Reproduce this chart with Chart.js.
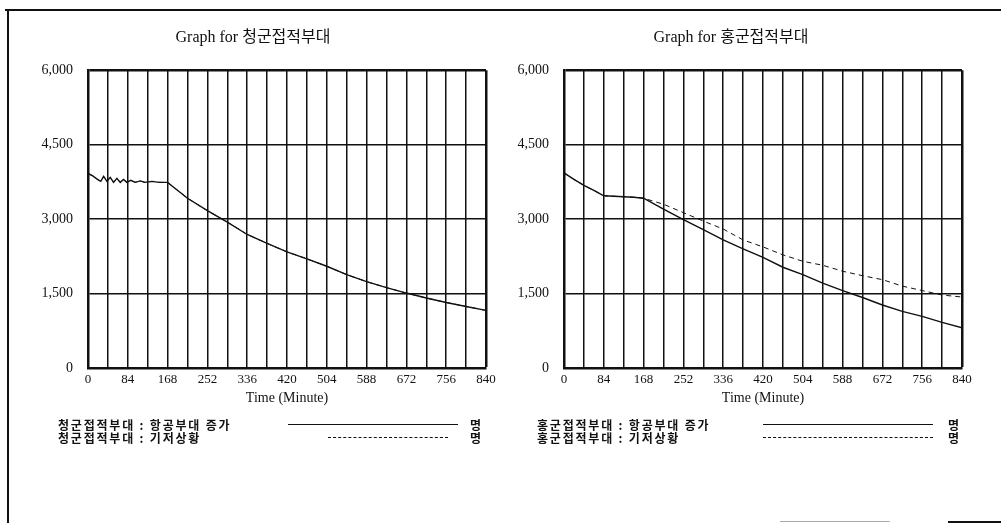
<!DOCTYPE html>
<html>
<head>
<meta charset="utf-8">
<script src="https://cdn.jsdelivr.net/npm/chart.js@4.4.0/dist/chart.umd.min.js"></script>
<style>
  body { margin: 0; background: #fff; }
  #page { position: relative; width: 1001px; height: 523px; overflow: hidden; background: #fff; }
  canvas { position: absolute; top: 0; }
  .frame { position: absolute; background: #111; }
  .legend { position: absolute; font-family: "Noto Sans CJK KR", sans-serif; font-size: 12px; font-weight: bold; color: #111; }
  .row { position: absolute; left: 0; height: 13px; line-height: 13px; white-space: nowrap; letter-spacing: 1.8px; }
  .sample { position: absolute; height: 0; border-top: 1.5px solid #111; }
  .sample.dash { border-top: 1.5px dashed #111; }
</style>
</head>
<body>
<div id="page">
  <div class="frame" style="left:5px; top:9px; width:996px; height:2px;"></div>
  <div class="frame" style="left:7px; top:9px; width:2px; height:514px;"></div>
  <div class="frame" style="left:780px; top:521px; width:110px; height:1px; background:#aaa;"></div>
  <div class="frame" style="left:948px; top:521px; width:53px; height:2px;"></div>
  <canvas id="left" width="500" height="420" style="left:20px;"></canvas>
  <canvas id="right" width="501" height="420" style="left:500px;"></canvas>
  <div id="legendLeft" class="legend" style="left:58px; top:418px;"></div>
  <div id="legendRight" class="legend" style="left:537px; top:418px;"></div>
</div>
<script>
// time in minutes, values in 명 (persons)
const leftTime = [0, 10, 20, 27, 33, 40, 47, 54, 61, 68, 75, 82, 90, 100, 110, 120, 135, 150, 168,
  210, 252, 294, 336, 378, 420, 462, 504, 546, 588, 630, 672, 714, 756, 798, 840];
//청군: 항공부대 증가
const leftAir = [3920, 3870, 3800, 3760, 3860, 3760, 3840, 3740, 3820, 3740, 3800, 3740, 3780, 3740, 3770, 3740, 3760, 3740, 3740,
  3420, 3170, 2940, 2690, 2510, 2340, 2200, 2050, 1880, 1740, 1620, 1510, 1410, 1320, 1240, 1160];
//청군: 기저상황 (same run as above on this graph)
const leftBase = [3920, 3870, 3800, 3760, 3860, 3760, 3840, 3740, 3820, 3740, 3800, 3740, 3780, 3740, 3770, 3740, 3760, 3740, 3740,
  3420, 3170, 2940, 2690, 2510, 2340, 2200, 2050, 1880, 1740, 1620, 1510, 1410, 1320, 1240, 1160];

const rightTime = [0, 21, 42, 63, 84, 105, 126, 147, 168, 210, 252, 294, 336, 378, 420, 462, 504,
  546, 588, 630, 672, 714, 756, 798, 840];
//홍군: 항공부대 증가
const rightAir = [3930, 3800, 3680, 3580, 3470, 3460, 3450, 3440, 3420, 3200, 2990, 2790, 2580, 2400, 2230, 2030, 1880,
  1710, 1560, 1420, 1270, 1140, 1040, 920, 810];
//홍군: 기저상황
const rightBase = [3930, 3800, 3680, 3580, 3470, 3460, 3450, 3440, 3420, 3300, 3130, 2960, 2800, 2580, 2440, 2280, 2150,
  2070, 1950, 1860, 1780, 1650, 1560, 1470, 1430];

const titles = ["Graph for 청군접적부대", "Graph for 홍군접적부대"];
const leftLabels = ["청군접적부대 : 항공부대 증가", "청군접적부대 : 기저상황"];
const rightLabels = ["홍군접적부대 : 항공부대 증가", "홍군접적부대 : 기저상황"];
const unit = "명";
const xTitle = "Time (Minute)";

const serif = "'Liberation Serif', 'Noto Sans CJK KR', serif";
const ink = "#111";

const toPoints = (t, v) => t.map((x, i) => ({ x: x, y: v[i] }));

function makeChart(id, title, time, air, base, labels, yWidth, padRight) {
  return new Chart(document.getElementById(id), {
    type: "line",
    data: {
      datasets: [
        { label: labels[0], data: toPoints(time, air), borderColor: ink, borderWidth: 1.4, pointRadius: 0, tension: 0 },
        { label: labels[1], data: toPoints(time, base), borderColor: ink, borderWidth: 1, borderDash: [5, 4], pointRadius: 0, tension: 0 },
      ],
    },
    options: {
      responsive: false,
      animation: false,
      layout: { padding: { left: 0, right: padRight, top: 0, bottom: 7 } },
      plugins: {
        legend: { display: false },
        tooltip: { enabled: false },
        title: {
          display: true,
          text: title,
          color: ink,
          font: { family: serif, size: 16, weight: "normal" },
          padding: { top: 28, bottom: 23 },
        },
      },
      scales: {
        x: {
          type: "linear",
          min: 0,
          max: 840,
          afterFit: (s) => { s.height = 45; },
          ticks: {
            stepSize: 42,
            autoSkip: false,
            maxRotation: 0,
            color: ink,
            padding: 4,
            font: { family: serif, size: 13 },
            callback: (v) => (v % 84 === 0 ? v : ""),
          },
          grid: {
            color: ink,
            drawTicks: false,
            lineWidth: (c) => (c.tick && c.tick.value === 840 ? 2.5 : 1.5),
          },
          border: { color: ink, width: 2.5 },
          title: {
            display: true,
            text: xTitle,
            color: ink,
            font: { family: serif, size: 14 },
            padding: { top: 0, bottom: 6 },
          },
        },
        y: {
          min: 0,
          max: 6000,
          afterFit: (s) => { s.width = yWidth; },
          ticks: {
            stepSize: 1500,
            color: ink,
            padding: 15,
            font: { family: serif, size: 14 },
            callback: (v) => v.toLocaleString("en-US"),
          },
          grid: {
            color: ink,
            drawTicks: false,
            lineWidth: (c) => (c.tick && c.tick.value === 6000 ? 2.5 : 1.5),
          },
          border: { color: ink, width: 2.5 },
        },
      },
    },
  });
}

const leftChart = makeChart("left", titles[0], leftTime, leftAir, leftBase, leftLabels, 68, 34);
const rightChart = makeChart("right", titles[1], rightTime, rightAir, rightBase, rightLabels, 64, 39);

//legend rows under each graph, taken from the dataset labels
function buildLegend(el, chart, lines) {
  chart.data.datasets.forEach((ds, i) => {
    const top = i * 13;
    const row = document.createElement("div");
    row.className = "row";
    row.style.top = top + "px";
    row.textContent = ds.label;
    el.appendChild(row);
    const s = document.createElement("div");
    s.className = "sample" + (ds.borderDash ? " dash" : "");
    s.style.top = top + 6 + "px";
    s.style.left = lines[i][0] + "px";
    s.style.width = lines[i][1] + "px";
    el.appendChild(s);
    const u = document.createElement("div");
    u.className = "row";
    u.style.top = top + "px";
    u.style.left = lines[2] + "px";
    u.textContent = unit;
    el.appendChild(u);
  });
}
buildLegend(document.getElementById("legendLeft"), leftChart, [[230, 170], [270, 120], 412]);
buildLegend(document.getElementById("legendRight"), rightChart, [[226, 170], [226, 170], 411]);
</script>
</body>
</html>
